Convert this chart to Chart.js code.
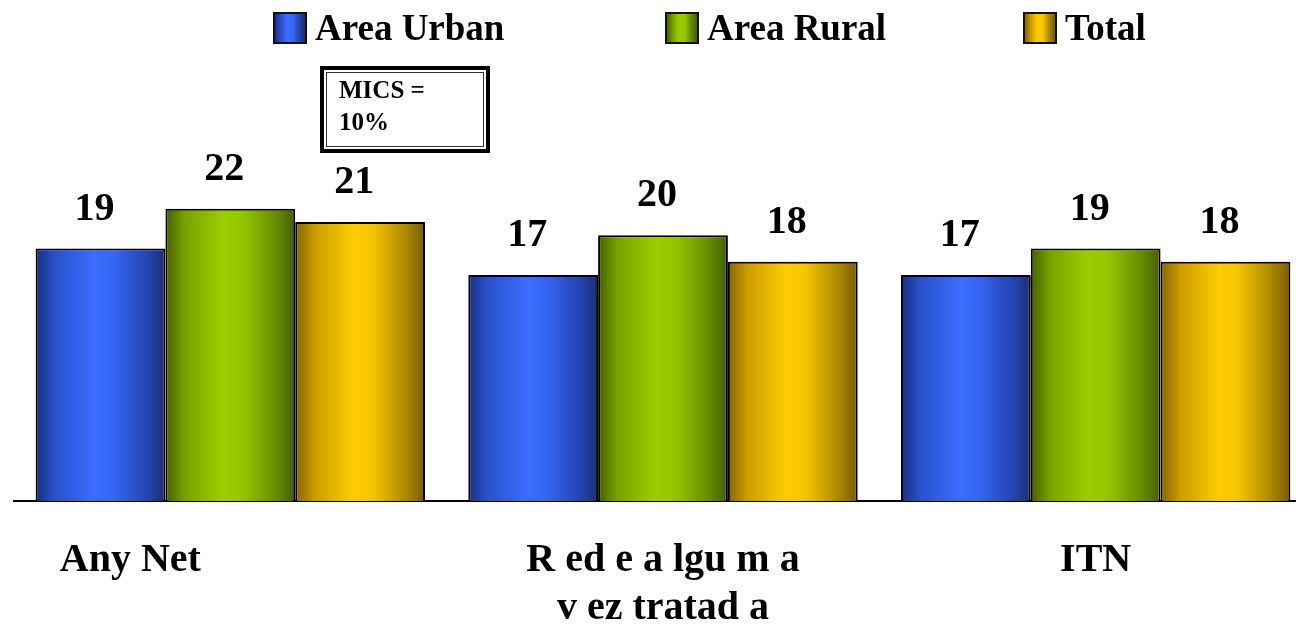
<!DOCTYPE html>
<html>
<head>
   <meta charset="UTF-8">
   <title>Any Net / ITN</title>
   <script src="https://cdn.jsdelivr.net/npm/chart.js"></script>
   <style>
       body {
           margin: 0;
           background: #fff;
           overflow: hidden;
           font-family: "Liberation Serif", serif;
       }
       #wrap {
           position: relative;
           width: 1312px;
           height: 630px;
       }
       #legend {
           position: absolute;
           top: 10px;
           left: 273px;
           height: 36px;
           display: flex;
           align-items: center;
       }
       .item {
           display: flex;
           align-items: center;
           font-weight: bold;
           font-size: 37px;
           line-height: 36px;
           color: #000;
       }
       .item:nth-child(1) { width: 392px; }
       .item:nth-child(2) { width: 358px; }
       .box {
           width: 30px;
           height: 28px;
           border: 2px solid #111;
           margin-right: 8px;
       }
       #mics {
           position: absolute;
           left: 320px;
           top: 66px;
           width: 170px;
           height: 87px;
           box-sizing: border-box;
           border: 4px solid #000;
           box-shadow: inset 0 0 0 2px #fff, inset 0 0 0 3px #333;
           padding: 4px 0 0 15px;
           font-weight: bold;
           font-size: 25px;
           line-height: 32px;
       }
   </style>
</head>
<body>
   <div id="wrap">
       <canvas id="grafik"></canvas>
       <div id="legend"></div>
       <div id="mics">MICS =<br>10%</div>
   </div>

   <script>
       // data
       const categories = [['Any Net'], ['R ed e a lgu m a', 'v ez tratad a'], ['ITN']];
       const seriesNames = ['Area Urban', 'Area Rural', 'Total'];
       const urban = [19, 17, 17];
       const rural = [22, 20, 19];
       const total = [21, 18, 18];

       // cylinder-like shading, left to right
       const blueStops = ['#19307c', '#2b50cc', '#3b6dff', '#3666f2', '#2546b4', '#1a2f76'];
       const greenStops = ['#465f00', '#79a200', '#9ccf00', '#93c600', '#688c00', '#445e04'];
       const yellowStops = ['#856509', '#c99d00', '#ffcc00', '#f6c300', '#ae8800', '#785c08'];

       const serif = '"Liberation Serif", "Times New Roman", serif';

       function barFill(stops) {
           return function (c) {
               const chart = c.chart;
               const x = chart.scales.x;
               if (c.type !== 'data' || !x || !x.width) return stops[2];
               const catW = x.width / chart.data.labels.length;
               const barW = catW * 0.9 / 3;
               const left = x.getPixelForValue(c.dataIndex) - 1.5 * barW + c.datasetIndex * barW;
               const g = chart.ctx.createLinearGradient(left, 0, left + barW, 0);
               const pos = [0, 0.15, 0.45, 0.6, 0.85, 1];
               stops.forEach((s, i) => g.addColorStop(pos[i], s));
               return g;
           };
       }

       // values above bars
       const valueLabels = {
           id: 'valueLabels',
           afterDatasetsDraw(chart) {
               const ctx = chart.ctx;
               ctx.save();
               ctx.font = 'bold 40px ' + serif;
               ctx.fillStyle = '#000';
               ctx.textAlign = 'center';
               ctx.textBaseline = 'alphabetic';
               chart.data.datasets.forEach((ds, di) => {
                   chart.getDatasetMeta(di).data.forEach((bar, i) => {
                       ctx.fillText(ds.data[i], bar.x - 6, bar.y - 29);
                   });
               });
               ctx.restore();
           }
       };

       const stopsList = [blueStops, greenStops, yellowStops];
       const values = [urban, rural, total];

       const grafik = new Chart(document.getElementById('grafik'), {
           type: 'bar',
           data: {
               labels: categories,
               datasets: seriesNames.map((name, i) => ({
                   label: name,
                   data: values[i],
                   backgroundColor: barFill(stopsList[i]),
                   borderColor: '#000',
                   borderWidth: 2,
                   categoryPercentage: 0.9,
                   barPercentage: 1.0
               }))
           },
           options: {
               responsive: true,
               maintainAspectRatio: false,
               animation: false,
               layout: { padding: { left: 14, right: 0, top: 105, bottom: 0 } },
               plugins: {
                   legend: { display: false },
                   tooltip: { enabled: false }
               },
               scales: {
                   x: {
                       grid: { display: false, drawTicks: false },
                       border: { display: true, color: '#000', width: 2 },
                       ticks: {
                           color: '#000',
                           padding: 36,
                           maxRotation: 0,
                           autoSkip: false,
                           font: { family: serif, size: 40, weight: 'bold' },
                           callback: function (v, i) {
                               const lab = this.getLabelForValue(v);
                               // first label sits left of its group in the original
                               return i === 0 ? lab + '\u00a0'.repeat(20) : lab;
                           }
                       },
                       afterFit: s => { s.height = 129; }
                   },
                   y: {
                       display: false,
                       min: 0,
                       max: 29.8
                   }
               }
           },
           plugins: [valueLabels]
       });

       // html legend
       const legend = document.getElementById('legend');
       grafik.data.datasets.forEach((ds, i) => {
           const item = document.createElement('div');
           item.className = 'item';
           const box = document.createElement('span');
           box.className = 'box';
           box.style.background = 'linear-gradient(to right, ' + stopsList[i].join(', ') + ')';
           item.appendChild(box);
           item.appendChild(document.createTextNode(ds.label));
           legend.appendChild(item);
       });
   </script>
</body>
</html>
